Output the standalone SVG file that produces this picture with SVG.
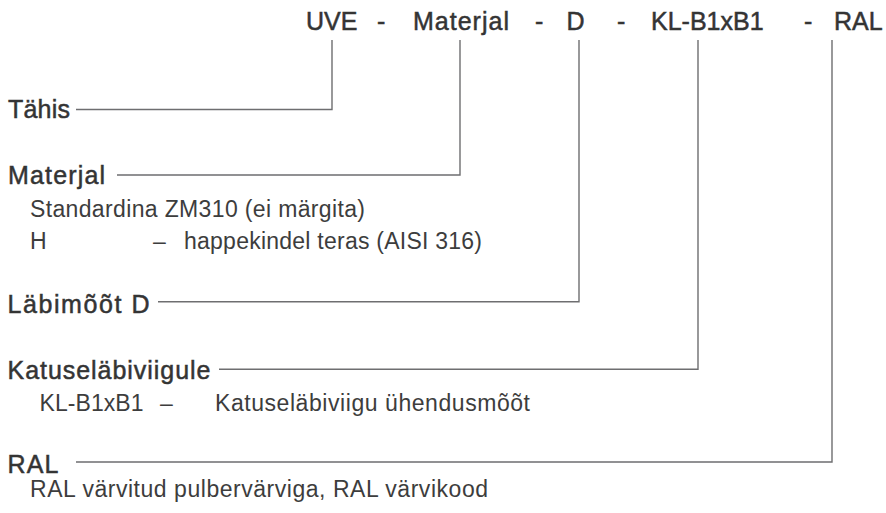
<svg xmlns="http://www.w3.org/2000/svg" width="886" height="513" viewBox="0 0 886 513">
<style>
.hd{font-family:"Liberation Sans",Arial,sans-serif;font-size:25px;fill:#343434;stroke:#343434;stroke-width:0.5}
.lb{font-family:"Liberation Sans",Arial,sans-serif;font-size:25px;fill:#343434;stroke:#343434;stroke-width:0.5}
.sb{font-family:"Liberation Sans",Arial,sans-serif;font-size:23px;fill:#3d3d3d}
.cn{fill:none;stroke:#6e6e70;stroke-width:1.4}
</style>
<rect width="886" height="513" fill="#ffffff"/>
<g id="header">
<text class="hd" x="306" y="29.5">UVE</text>
<text class="hd" x="377" y="29.5">-</text>
<text class="hd" x="413" y="29.5" textLength="96" lengthAdjust="spacing">Materjal</text>
<text class="hd" x="535" y="29.5">-</text>
<text class="hd" x="566.5" y="29.5">D</text>
<text class="hd" x="617" y="29.5">-</text>
<text class="hd" x="651" y="29.5">KL-B1xB1</text>
<text class="hd" x="804" y="29.5">-</text>
<text class="hd" x="834" y="29.5">RAL</text>
</g>
<g id="connectors">
<polyline class="cn" points="332,40 332,109.5 76,109.5"/>
<polyline class="cn" points="460,40 460,175 117,175"/>
<polyline class="cn" points="579,40 579,301.7 158,301.7"/>
<polyline class="cn" points="698,40 698,369.3 219,369.3"/>
<polyline class="cn" points="832,40 832,462 76,462"/>
</g>
<g id="tahis">
<text class="lb" x="8" y="118" textLength="62" lengthAdjust="spacing">Tähis</text>
</g>
<g id="materjal">
<text class="lb" x="8" y="184" textLength="97" lengthAdjust="spacing">Materjal</text>
<text class="sb" x="30" y="217" textLength="335" lengthAdjust="spacing">Standardina ZM310 (ei märgita)</text>
<text class="sb" x="30" y="249">H</text>
<text class="sb" x="153" y="249">–</text>
<text class="sb" x="184" y="249" textLength="298" lengthAdjust="spacing">happekindel teras (AISI 316)</text>
</g>
<g id="labimoot">
<text class="lb" x="7.5" y="312.5" textLength="142" lengthAdjust="spacing">Läbimõõt D</text>
</g>
<g id="katuselabiviigule">
<text class="lb" x="7.5" y="378.5" textLength="203" lengthAdjust="spacing">Katuseläbiviigule</text>
<text class="sb" x="39.5" y="411" textLength="104" lengthAdjust="spacing">KL-B1xB1</text>
<text class="sb" x="160" y="411">–</text>
<text class="sb" x="215" y="411" textLength="315" lengthAdjust="spacing">Katuseläbiviigu ühendusmõõt</text>
</g>
<g id="ral">
<text class="lb" x="7.5" y="472.5" textLength="51" lengthAdjust="spacing">RAL</text>
<text class="sb" x="30" y="497" textLength="458" lengthAdjust="spacing">RAL värvitud pulbervärviga, RAL värvikood</text>
</g>
</svg>
